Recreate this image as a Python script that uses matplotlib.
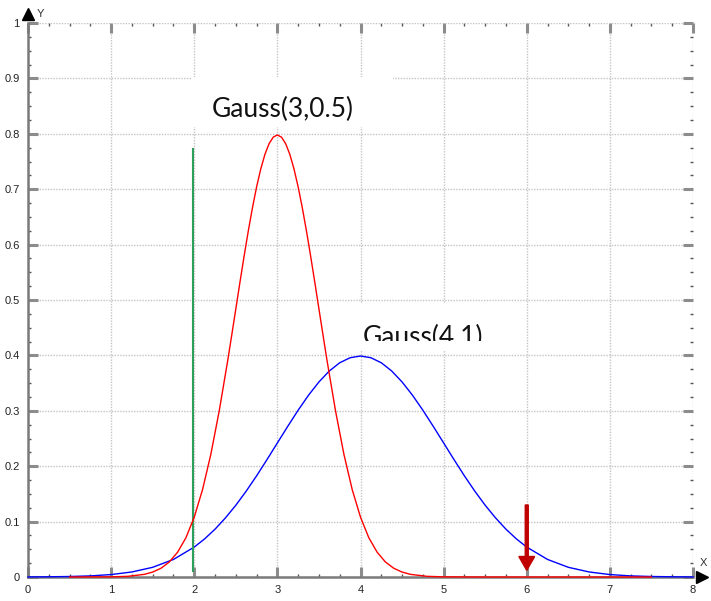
import matplotlib
matplotlib.use('Agg')
import matplotlib.pyplot as plt
from matplotlib.patches import Rectangle
from matplotlib.ticker import MultipleLocator, FuncFormatter

# Gauss(3,0.5) - значения
red_x = [0.5, 1.0, 1.2, 1.4, 1.5, 1.6, 1.7, 1.8, 1.9, 2.0, 2.1, 2.2, 2.3,
         2.4, 2.45, 2.5, 2.55, 2.6, 2.65, 2.7, 2.75, 2.8, 2.85, 2.9, 2.95, 3.0,
         3.05, 3.1, 3.15, 3.2, 3.25, 3.3, 3.35, 3.4, 3.45, 3.5, 3.55, 3.6,
         3.7, 3.8, 3.9, 4.0, 4.1, 4.2, 4.3, 4.4, 4.5, 4.6, 4.8, 5.0, 5.5, 7.5]
red_y = [0.0, 0.0003, 0.0012, 0.0048, 0.0089, 0.0158, 0.0271, 0.0448, 0.0709, 0.1080,
         0.1579, 0.2218, 0.2995,
         0.3884, 0.4357, 0.4839, 0.5322, 0.5794, 0.6245, 0.6664, 0.7041, 0.7365,
         0.7628, 0.7821, 0.7939, 0.7979,
         0.7939, 0.7821, 0.7628, 0.7365, 0.7041, 0.6664, 0.6245, 0.5794, 0.5322,
         0.4839, 0.4357, 0.3884,
         0.2995, 0.2218, 0.1579, 0.1080, 0.0709, 0.0448, 0.0271, 0.0158, 0.0089,
         0.0048, 0.0012, 0.0003, 0.0, 0.0]

# Gauss(4,1)
blue_x = [0.0, 0.25, 0.5, 0.75, 1.0, 1.25, 1.5, 1.75,
          2.0, 2.125, 2.25, 2.375, 2.5, 2.625, 2.75, 2.875, 3.0, 3.125, 3.25, 3.375,
          3.5, 3.625, 3.75, 3.875, 4.0, 4.125, 4.25, 4.375, 4.5, 4.625, 4.75, 4.875,
          5.0, 5.125, 5.25, 5.375, 5.5, 5.625, 5.75, 5.875, 6.0,
          6.25, 6.5, 6.75, 7.0, 7.25, 7.5, 7.75, 8.0]
blue_y = [0.0001, 0.0004, 0.0009, 0.0020, 0.0044, 0.0091, 0.0175, 0.0317,
          0.0540, 0.0688, 0.0863, 0.1066, 0.1295, 0.1550, 0.1826, 0.2119, 0.2420,
          0.2720, 0.3011, 0.3282, 0.3521, 0.3719, 0.3867, 0.3958, 0.3989,
          0.3958, 0.3867, 0.3719, 0.3521, 0.3282, 0.3011, 0.2720, 0.2420,
          0.2119, 0.1826, 0.1550, 0.1295, 0.1066, 0.0863, 0.0688, 0.0540,
          0.0317, 0.0175, 0.0091, 0.0044, 0.0020, 0.0009, 0.0004, 0.0001]

# зелёная вертикальная линия и красная стрелка
green_x = 1.98
green_y = [0.011, 0.772]
arrow_x = 6.0
arrow_y = [0.13, 0.012]

labels = ['Gauss(3,0.5)', 'Gauss(4,1)']

fig = plt.figure(figsize=(7.11, 6.01), dpi=100)
ax = fig.add_axes([28 / 711, 1 - 577 / 601, 665 / 711, 554 / 601])
ax.set_xlim(0, 8)
ax.set_ylim(0, 1)

ax.grid(True, which='major', color='#c4c4c4', linestyle=(0, (1, 1)), linewidth=1)
ax.set_axisbelow(True)

ax.xaxis.set_major_locator(MultipleLocator(1))
ax.xaxis.set_minor_locator(MultipleLocator(0.25))
ax.yaxis.set_major_locator(MultipleLocator(0.1))
ax.yaxis.set_minor_locator(MultipleLocator(0.025))
ax.yaxis.set_major_formatter(FuncFormatter(lambda v, p: f'{v:g}'))
ax.xaxis.set_major_formatter(FuncFormatter(lambda v, p: f'{v:g}'))

ax.tick_params(which='both', direction='in', top=True, right=True)
ax.tick_params(which='major', length=7, width=2.2, color='#8c8c8c', pad=6,
               labelsize=8, labelcolor='#222222')
ax.tick_params(which='minor', length=2, width=1, color='#555555')
for lab in ax.get_xticklabels() + ax.get_yticklabels():
    lab.set_family(['Liberation Sans', 'DejaVu Sans'])

for s in ['top', 'right']:
    ax.spines[s].set_visible(False)
for s in ['left', 'bottom']:
    ax.spines[s].set_color('#7a7a7a')
    ax.spines[s].set_linewidth(1.8)

# белые подложки под подписями
ax.add_patch(Rectangle((1.97, 0.812), 2.42, 0.09, facecolor='white', edgecolor='none', zorder=1.5))
ax.add_patch(Rectangle((3.81, 0.41), 1.63, 0.083, facecolor='white', edgecolor='none', zorder=1.5))

ax.plot(blue_x, blue_y, color='#0000ff', lw=1.0, zorder=3, clip_on=False)
ax.plot(red_x, red_y, color='#ff0000', lw=1.0, zorder=3.2, clip_on=False)
ax.plot([green_x, green_x], green_y, color='#2ca05a', lw=1.5, zorder=3)

ax.arrow(arrow_x, arrow_y[0], 0, arrow_y[1] - arrow_y[0], width=0.036, head_width=0.19,
         head_length=0.025, length_includes_head=True, color='#c00000', zorder=4)

ax.text(2.214, 0.83, labels[0], fontsize=19, family=['Lato', 'DejaVu Sans'],
        va='baseline', ha='left', color='#111111', zorder=5)
t2 = ax.text(4.03, 0.418, labels[1], fontsize=19, family=['Lato', 'DejaVu Sans'],
             va='baseline', ha='left', color='#111111', zorder=5, clip_on=True)
t2.set_clip_path(Rectangle((3.8, 0.426), 2.0, 0.2, transform=ax.transData))

# стрелки осей
ax.plot([0], [1.017], marker='^', markersize=8, color='black', transform=ax.transAxes, clip_on=False)
ax.plot([1.0135], [0], marker='>', markersize=9, color='black', transform=ax.transAxes, clip_on=False)
ax.text(0.013, 1.016, 'Y', transform=ax.transAxes, fontsize=8, va='center', ha='left',
        family=['Liberation Sans', 'DejaVu Sans'], color='#333333')
ax.text(1.015, 0.025, 'X', transform=ax.transAxes, fontsize=8, va='center', ha='center',
        family=['Liberation Sans', 'DejaVu Sans'], color='#333333')

fig.savefig('out.png', dpi=100, facecolor='white')
